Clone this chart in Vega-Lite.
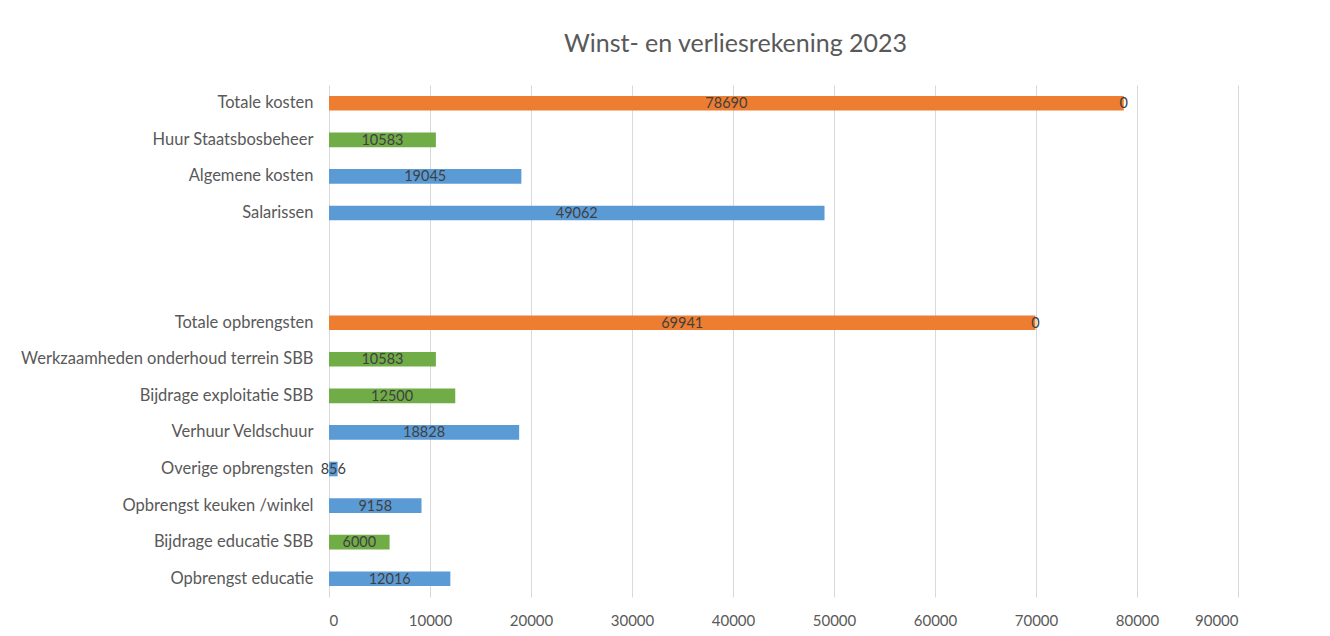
{
  "$schema": "https://vega.github.io/schema/vega-lite/v6.json",
  "autosize": {"type": "none"},
  "width": 909,
  "height": 512,
  "padding": {"left": 329, "top": 85, "right": 92, "bottom": 39},
  "background": "white",
  "title": {
    "text": "Winst- en verliesrekening  2023",
    "font": "Lato",
    "fontSize": 25,
    "fontWeight": "normal",
    "color": "#595959",
    "anchor": "middle",
    "dx": -48,
    "baseline": "middle",
    "offset": 16
  },
  "config": {
    "view": {"stroke": null},
    "font": "Lato"
  },
  "data": {
    "values": [
      {"post": "Totale kosten", "bedrag": 78690, "soort": "totaal", "nul": 0},
      {"post": "Huur Staatsbosbeheer ", "bedrag": 10583, "soort": "SBB"},
      {"post": "Algemene kosten", "bedrag": 19045, "soort": "eigen"},
      {"post": "Salarissen", "bedrag": 49062, "soort": "eigen"},
      {"post": "Totale opbrengsten", "bedrag": 69941, "soort": "totaal", "nul": 0},
      {"post": "Werkzaamheden onderhoud terrein SBB", "bedrag": 10583, "soort": "SBB"},
      {"post": "Bijdrage exploitatie SBB", "bedrag": 12500, "soort": "SBB"},
      {"post": "Verhuur Veldschuur", "bedrag": 18828, "soort": "eigen"},
      {"post": "Overige opbrengsten ", "bedrag": 856, "soort": "eigen"},
      {"post": "Opbrengst keuken /winkel", "bedrag": 9158, "soort": "eigen"},
      {"post": "Bijdrage educatie SBB", "bedrag": 6000, "soort": "SBB"},
      {"post": "Opbrengst educatie", "bedrag": 12016, "soort": "eigen"}
    ]
  },
  "encoding": {
    "y": {
      "field": "post",
      "type": "nominal",
      "sort": null,
      "scale": {
        "domain": ["Totale kosten", "Huur Staatsbosbeheer ", "Algemene kosten", "Salarissen", " ", "  ", "Totale opbrengsten", "Werkzaamheden onderhoud terrein SBB", "Bijdrage exploitatie SBB", "Verhuur Veldschuur", "Overige opbrengsten ", "Opbrengst keuken /winkel", "Bijdrage educatie SBB", "Opbrengst educatie"],
        "paddingInner": 0.6,
        "paddingOuter": 0.3
      },
      "axis": {
        "title": null,
        "ticks": false,
        "domain": false,
        "labelPadding": 16,
        "labelFontSize": 16.5,
        "labelColor": "#595959",
        "labelLimit": 400
      }
    }
  },
  "layer": [
    {
      "mark": {"type": "bar"},
      "encoding": {
        "x": {
          "field": "bedrag",
          "type": "quantitative",
          "scale": {"domain": [0, 90000], "nice": false},
          "axis": {
            "title": null,
            "values": [0, 10000, 20000, 30000, 40000, 50000, 60000, 70000, 80000, 90000],
            "format": "d",
            "grid": true,
            "gridColor": "#d9d9d9",
            "domain": false,
            "ticks": false,
            "labelPadding": 16,
            "labelFontSize": 15,
            "labelColor": "#595959"
          }
        },
        "color": {
          "field": "soort",
          "type": "nominal",
          "scale": {"domain": ["eigen", "totaal", "SBB"], "range": ["#5B9BD5", "#ED7D31", "#70AD47"]},
          "legend": null
        }
      }
    },
    {
      "transform": [{"calculate": "datum.bedrag / 2", "as": "midden"}],
      "mark": {"type": "text", "fontSize": 14.5, "color": "#404040", "align": "center", "baseline": "middle", "dy": 1},
      "encoding": {
        "x": {"field": "midden", "type": "quantitative"},
        "text": {"field": "bedrag", "type": "quantitative", "format": "d"}
      }
    },
    {
      "transform": [{"filter": "isValid(datum.nul)"}],
      "mark": {"type": "text", "fontSize": 14.5, "color": "#404040", "align": "center", "baseline": "middle", "dy": 1},
      "encoding": {
        "x": {"field": "bedrag", "type": "quantitative"},
        "text": {"field": "nul", "type": "quantitative", "format": "d"}
      }
    }
  ]
}
